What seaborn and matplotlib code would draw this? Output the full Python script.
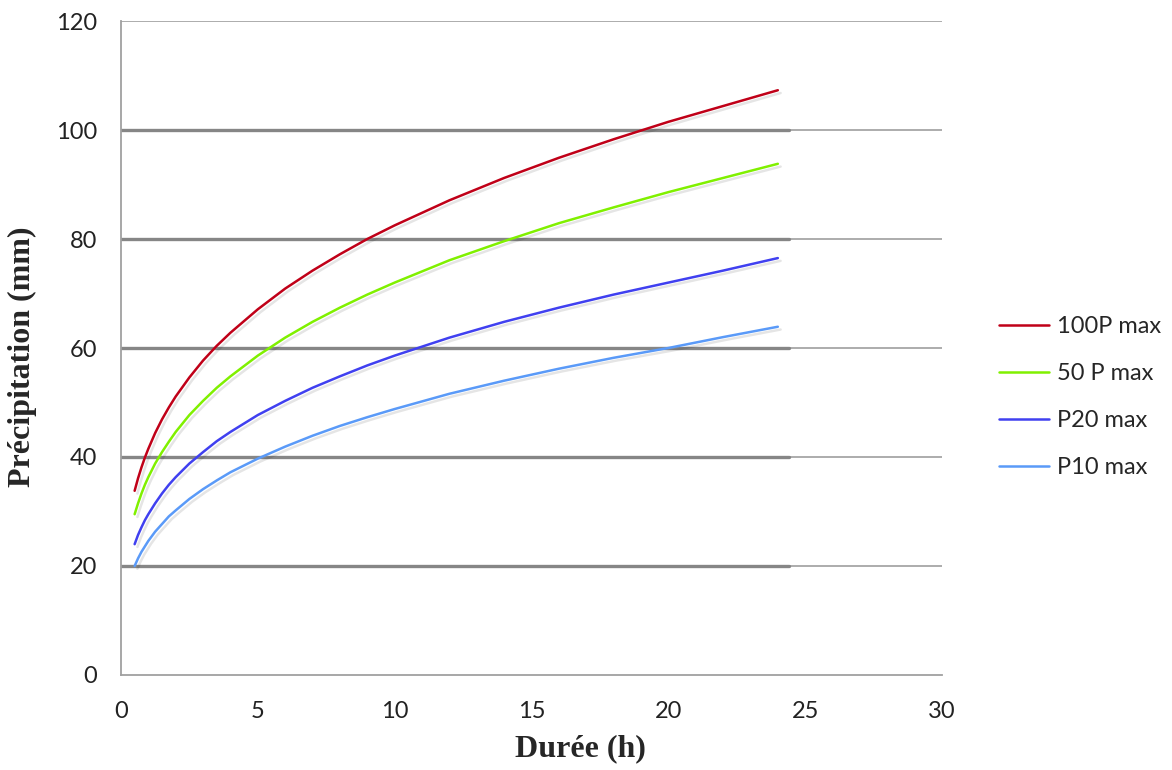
import matplotlib
matplotlib.use('Agg')
import matplotlib.pyplot as plt
import matplotlib.patheffects as pe
import pandas as pd
import seaborn as sns

# Durations (h) and precipitation (mm)
duree = [0.5, 0.625, 0.75, 0.875, 1, 1.25, 1.5, 1.75, 2, 2.5, 3, 3.5, 4, 5, 6, 7, 8, 9,
         10, 12, 14, 16, 18, 20, 22, 24]
p100 = [33.8, 36.1, 38.1, 39.9, 41.5, 44.4, 46.9, 49.1, 51.1, 54.6, 57.7, 60.4, 62.8, 67.1,
        70.9, 74.2, 77.2, 80.0, 82.5, 87.1, 91.2, 94.9, 98.3, 101.5, 104.4, 107.3]
p50 = [29.5, 31.5, 33.3, 34.9, 36.3, 38.8, 40.9, 42.8, 44.6, 47.7, 50.3, 52.7, 54.8, 58.6,
       61.9, 64.8, 67.4, 69.8, 72.0, 76.1, 79.6, 82.9, 85.8, 88.6, 91.2, 93.8]
p20 = [24.0, 25.7, 27.1, 28.4, 29.5, 31.5, 33.3, 34.9, 36.3, 38.8, 40.9, 42.9, 44.6, 47.7,
       50.3, 52.7, 54.8, 56.8, 58.6, 61.9, 64.8, 67.4, 69.8, 72.0, 74.2, 76.5]
p10 = [20.0, 21.4, 22.6, 23.6, 24.6, 26.3, 27.7, 29.1, 30.2, 32.3, 34.1, 35.7, 37.2, 39.7,
       41.9, 43.9, 45.7, 47.3, 48.8, 51.6, 54.0, 56.2, 58.2, 60.0, 62.0, 63.9]

series_names = ['100P max', '50 P max', 'P20 max', 'P10 max']
series_colors = ['#c00018', '#80f000', '#4040f0', '#5a9af8']

x_ticks = [0, 5, 10, 15, 20, 25, 30]
y_ticks = [0, 20, 40, 60, 80, 100, 120]

df = pd.concat([
    pd.DataFrame({'Durée': duree, 'Précipitation': vals, 'Série': name})
    for name, vals in zip(series_names, [p100, p50, p20, p10])
])

sns.set_style('white')
plt.rcParams['font.family'] = ['Lato', 'DejaVu Sans']

fig = plt.figure(figsize=(11.72, 7.7), dpi=100)
ax = fig.add_axes([0.1032, 0.1234, 0.7006, 0.8493])

# Grid lines (light full width, darker segment as in the original)
for y in y_ticks[1:]:
    ax.axhline(y, color='#a6a6a6', lw=1.3, zorder=0)
for y in y_ticks[1:-1]:
    ax.axhline(y, xmax=24.4 / 30, color='#868686', lw=2.4, zorder=0)

sns.lineplot(data=df, x='Durée', y='Précipitation', hue='Série',
             palette=dict(zip(series_names, series_colors)), ax=ax,
             lw=1.8, legend=False, zorder=3)
for line in ax.lines[-4:]:
    line.set_path_effects([pe.SimpleLineShadow(offset=(2, -2), alpha=0.1), pe.Normal()])

ax.set_xlim(0, 30)
ax.set_ylim(0, 120)
ax.set_xticks(x_ticks)
ax.set_yticks(y_ticks)
ax.tick_params(axis='both', labelsize=17, colors='#222222', length=7, width=1.2,
               color='#999999', direction='out')
ax.tick_params(axis='y', pad=10)
ax.tick_params(axis='x', pad=12)
for side in ['top', 'right']:
    ax.spines[side].set_visible(False)
for side in ['left', 'bottom']:
    ax.spines[side].set_color('#a0a0a0')
    ax.spines[side].set_linewidth(1.3)

ax.set_xlabel('Durée (h)', family='Liberation Serif', fontweight='bold', fontsize=23)
ax.set_ylabel('Précipitation (mm)', family='Liberation Serif', fontweight='bold', fontsize=23)
ax.xaxis.set_label_coords(0.559, -0.090)
ax.yaxis.set_label_coords(-0.102, 0.487)

handles = [plt.Line2D([], [], color=c, lw=1.8) for c in series_colors]
fig.legend(handles, series_names, loc='center left', bbox_to_anchor=(0.8345, 0.484),
           frameon=False, fontsize=17, handlelength=2.1, labelspacing=1.1, handletextpad=0.35)

fig.savefig('out.png', dpi=100)
